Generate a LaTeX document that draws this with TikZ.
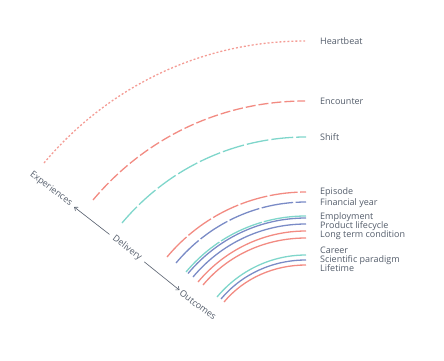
\documentclass[tikz,border=0pt]{standalone}
\usepackage{fontspec}
\setmainfont{Open Sans}
\usetikzlibrary{arrows.meta}
\definecolor{cred}{HTML}{F28B82}
\definecolor{cteal}{HTML}{7FD6CB}
\definecolor{cblue}{HTML}{7A8BC6}
\definecolor{ctext}{HTML}{535C6A}
\tikzset{
  arcline/.style={line width=1.3pt, looseness=0.9},
  lbl/.style={anchor=base west, inner sep=0pt, text=ctext, font=\fontsize{9}{10}\selectfont},
  axlbl/.style={rotate=-37, inner sep=1pt, text=ctext, font=\fontsize{9}{10}\selectfont},
  axarrow/.style={draw=ctext, line width=0.6pt, -{To[length=3.5pt,width=5pt]}}
}
\begin{document}
\begin{tikzpicture}[x=1pt,y=1pt]
\useasboundingbox (0,0) rectangle (444,360);
% labels
\node[lbl] (heartbeat) at (320,315.7) {Heartbeat};
\node[lbl] (encounter) at (320,255.7) {Encounter};
\node[lbl] (shift) at (320,219.7) {Shift};
\node[lbl] (episode) at (320,165.7) {Episode};
\node[lbl] (finyear) at (320,154.7) {Financial year};
\node[lbl] (employment) at (320,140.2) {Employment};
\node[lbl] (prodlife) at (320,131.2) {Product lifecycle};
\node[lbl] (longterm) at (320,122.2) {Long term condition};
\node[lbl] (career) at (320,106.7) {Career};
\node[lbl] (sciparadigm) at (320,97.7) {Scientific paradigm};
\node[lbl] (lifetime) at (320,88.7) {Lifetime};
% curve end points
\coordinate (s1) at (44,197);  \coordinate (e1) at (305,319);
\coordinate (s2) at (93,160);  \coordinate (e2) at (305,259);
\coordinate (s3) at (122,137); \coordinate (e3) at (306,223);
\coordinate (s4) at (167,103); \coordinate (e4) at (306,168);
\coordinate (s5) at (176,97);  \coordinate (e5) at (306,158);
\coordinate (s6) at (186,88);  \coordinate (e6) at (306,144);
\coordinate (s7) at (188,86.5);  \coordinate (e7) at (306,142);
\coordinate (s8) at (193,83);  \coordinate (e8) at (306,136);
\coordinate (s9) at (198,78);  \coordinate (e9) at (306,129);
\coordinate (s10) at (203,75); \coordinate (e10) at (306,122);
\coordinate (s11) at (217,63); \coordinate (e11) at (306,105);
\coordinate (s12) at (221,61); \coordinate (e12) at (306,100);
\coordinate (s13) at (224,58); \coordinate (e13) at (306,95);
% curves
\draw[arcline, cred!85, dash pattern=on 2pt off 2pt] (s1) to[out=50,in=180] (e1);
\draw[arcline, cred, dash pattern=on 10pt off 3pt] (s2) to[out=50,in=180] (e2);
\draw[arcline, cteal, dash pattern=on 22pt off 3pt] (s3) to[out=50,in=180] (e3);
\draw[arcline, cred, dash pattern=on 28pt off 2.5pt] (s4) to[out=50,in=180] (e4);
\draw[arcline, cblue, dash pattern=on 32pt off 2.5pt] (s5) to[out=50,in=180] (e5);
\draw[arcline, cteal, dash pattern=on 45pt off 2pt] (s6) to[out=50,in=180] (e6);
\draw[arcline, cblue] (s7) to[out=50,in=180] (e7);
\draw[arcline, cblue] (s8) to[out=50,in=180] (e8);
\draw[arcline, cred] (s9) to[out=50,in=180] (e9);
\draw[arcline, cred] (s10) to[out=50,in=180] (e10);
\draw[arcline, cteal] (s11) to[out=50,in=180] (e11);
\draw[arcline, cblue] (s12) to[out=50,in=180] (e12);
\draw[arcline, cred] (s13) to[out=50,in=180] (e13);
% axis
\node[axlbl] (experiences) at (51,171) {Experiences};
\node[axlbl] (delivery) at (127,112) {Delivery};
\node[axlbl] (outcomes) at (198,55) {Outcomes};
\draw[axarrow, shorten <=4pt, shorten >=3pt] (delivery) -- (experiences);
\draw[axarrow, shorten <=4pt, shorten >=1pt] (delivery) -- (outcomes);
\end{tikzpicture}
\end{document}
